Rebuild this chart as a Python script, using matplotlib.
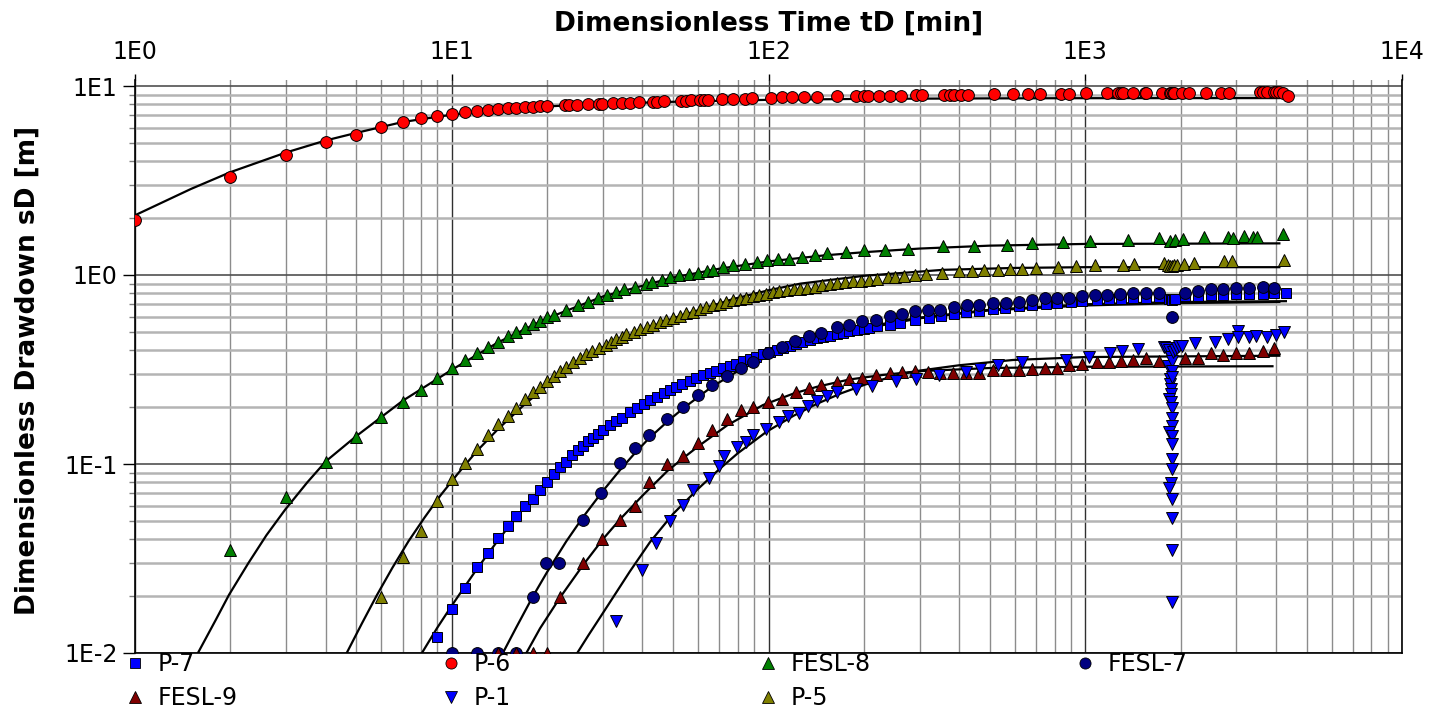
import math
import matplotlib
matplotlib.use("Agg")
import matplotlib.pyplot as plt
from matplotlib.lines import Line2D
from matplotlib.ticker import LogLocator, FuncFormatter, NullFormatter

plt.rcParams['font.family'] = ['DejaVu Sans']

# ---------------- data (t [min], s [m]) ----------------
P7 = [(9,0.0122),(10,0.0171),(11,0.0222),(12,0.0284),(13,0.0338),(14,0.0406),(15,0.0468),(16,0.0533),
      (17,0.0598),(18,0.0649),(19,0.073),(20,0.08),(21,0.089),(22,0.096),(23,0.103),(24,0.111),(25,0.118),
      (26,0.125),(27,0.132),(28,0.138),(29,0.145),(30,0.151),(31.6,0.16),(33,0.168),(34.5,0.176),(36.5,0.188),
      (38.5,0.198),(40.5,0.207),(42.2,0.217),(44.5,0.227),(46.7,0.237),(48.8,0.247),(51,0.256),(53.5,0.265),
      (56.4,0.275),(59.2,0.285),(62,0.294),(65.2,0.303),(68.5,0.312),(71.8,0.321),(75.4,0.331),(79,0.34),
      (83,0.35),(87.2,0.36),(91.5,0.37),(96,0.38),(100.8,0.39),(106,0.4),(111,0.41),(116.6,0.423),(122,0.432),
      (128,0.442),(134.8,0.455),(142,0.462),(149,0.47),(156,0.478),(164,0.486),(172,0.495),(180,0.504),
      (190,0.512),(200,0.52),(208,0.525),(220,0.535),(241,0.547),(260,0.56),(290,0.575),(320,0.59),(350,0.605),
      (385,0.62),(420,0.635),(463,0.645),(510,0.66),(560,0.67),(620,0.685),(680,0.695),(750,0.705),(815,0.715),
      (900,0.72),(980,0.73),(1090,0.735),(1190,0.745),(1300,0.75),(1420,0.755),(1560,0.76),(1710,0.765),
      (1840,0.75),(1860,0.745),(1880,0.74),(1900,0.745),(1920,0.75),(2060,0.77),(2270,0.775),(2490,0.78),
      (2730,0.785),(2990,0.79),(3300,0.79),(3630,0.795),(3950,0.8),(4300,0.805)]

P6 = [(1,1.95),(2,3.31),(3,4.32),(4,5.08),(5,5.51),(6,6.06),(7,6.44),(8,6.76),(9,6.9),(10,7.1),(11,7.28),
      (12,7.39),(13,7.47),(14,7.55),(15,7.62),(16,7.68),(17,7.72),(18,7.76),(19,7.8),(20,7.83),(22.7,7.9),
      (23.5,7.92),(24.9,7.95),(26.9,8.0),(29.1,8.05),(29.8,8.05),(32.2,8.1),(34.4,8.15),(36.6,8.15),(38.9,8.2),
      (43.1,8.25),(44.4,8.25),(46.8,8.3),(52.8,8.35),(54.7,8.35),(56.9,8.4),(60.9,8.4),(62.5,8.4),(64.6,8.45),
      (71.3,8.5),(77,8.5),(84.3,8.55),(88.8,8.6),(102,8.65),(110,8.7),(119,8.7),(129,8.75),(142,8.75),(164,8.8),
      (189,8.85),(200,8.85),(206,8.85),(224,8.9),(242,8.9),(262,8.9),(293,8.95),(305,8.95),(357,8.95),(373,8.95),
      (385,9.0),(405,9.0),(425,9.0),(516,9.05),(591,9.1),(661,9.1),(720,9.1),(838,9.1),(888,9.12),(1005,9.15),
      (1169,9.15),(1270,9.15),(1295,9.15),(1320,9.18),(1420,9.18),(1540,9.18),(1555,9.18),(1747,9.18),
      (1850,9.2),(1870,9.2),(1890,9.2),(1910,9.2),(2015,9.2),(2130,9.2),(2410,9.22),(2680,9.22),(2840,9.22),
      (3550,9.25),(3650,9.25),(3750,9.25),(3950,9.25),(4000,9.25),(4100,9.25),(4200,9.22),(4370,8.88)]

FESL8 = [(2,0.0349),(3,0.0667),(4,0.102),(5,0.1396),(6,0.178),(7,0.212),(8,0.247),(9,0.284),(10,0.321),
         (11,0.354),(12,0.387),(13,0.415),(14,0.444),(15,0.478),(16,0.501),(17,0.523),(18,0.549),(19,0.572),
         (20,0.598),(21,0.615),(23,0.654),(25,0.69),(27,0.719),(29,0.757),(31,0.783),(33,0.809),(35,0.839),
         (38,0.864),(41,0.892),(43,0.918),(46,0.944),(49,0.976),(52,1.0),(56,1.012),(60,1.03),(64,1.045),
         (67,1.063),(72,1.10),(77,1.125),(84,1.138),(92,1.172),(99,1.195),(107,1.22),(116,1.22),(128,1.247),
         (140,1.27),(153,1.30),(176,1.32),(200,1.35),(233,1.36),(275,1.38),(356,1.42),(447,1.42),(565,1.45),
         (680,1.48),(850,1.50),(1035,1.52),(1361,1.53),(1706,1.56),(1847,1.52),(1920,1.53),(2030,1.55),
         (2373,1.58),(2830,1.59),(2925,1.56),(3180,1.61),(3390,1.58),(3480,1.58),(4200,1.64)]

FESL7 = [(10,0.01),(12,0.01),(14,0.01),(16,0.01),(18,0.0199),(19.9,0.0301),(21.8,0.0301),(25.9,0.0504),
         (29.7,0.0704),(34,0.1007),(37.9,0.121),(41.8,0.142),(47.9,0.173),(53.9,0.201),(59.8,0.231),(66.2,0.262),
         (74.1,0.293),(81.6,0.322),(89.3,0.345),(99.7,0.387),(110,0.415),(121,0.45),(134,0.474),(147,0.492),
         (164,0.533),(180,0.545),(198,0.57),(218,0.579),(241,0.606),(264,0.623),(290,0.646),(318,0.654),
         (349,0.656),(385,0.676),(422,0.69),(463,0.696),(510,0.71),(563,0.71),(617,0.724),(677,0.733),
         (747,0.755),(813,0.755),(890,0.757),(980,0.773),(1070,0.785),(1175,0.785),(1290,0.789),(1420,0.802),
         (1560,0.802),(1710,0.802),(1877,0.603),(2060,0.802),(2270,0.822),(2490,0.839),(2730,0.839),
         (2990,0.853),(3300,0.853),(3630,0.863),(3950,0.853)]

FESL9 = [(14,0.01),(16,0.01),(18,0.01),(20,0.01),(21.9,0.0199),(25.9,0.0299),(29.9,0.0401),(34,0.0504),
         (37.9,0.0603),(41.8,0.0801),(47.9,0.1004),(53.9,0.110),(59.8,0.1298),(66.2,0.151),(74.1,0.1726),
         (81.6,0.193),(89.3,0.2),(99.7,0.213),(110,0.222),(122,0.241),(134,0.251),(147,0.262),(164,0.273),
         (179,0.283),(198,0.284),(218,0.295),(241,0.304),(264,0.305),(290,0.309),(318,0.305),(349,0.302),
         (383,0.303),(420,0.303),(463,0.303),(510,0.313),(563,0.313),(617,0.315),(677,0.318),(747,0.322),
         (813,0.323),(890,0.336),(980,0.337),(1086,0.345),(1190,0.345),(1300,0.349),(1420,0.355),(1560,0.364),
         (1710,0.352),(2060,0.362),(2270,0.362),(2490,0.387),(2730,0.377),(2990,0.387),(3300,0.387),
         (3630,0.398),(3950,0.41)]

P1 = [(33,0.0147),(39.8,0.0275),(44,0.0383),(48.8,0.0502),(53.9,0.061),(57.6,0.0727),(65,0.0846),(70,0.0975),
      (72.5,0.110),(79.5,0.1236),(85,0.1306),(89.3,0.142),(98.5,0.154),(108,0.167),(115,0.18),(125,0.187),
      (133,0.203),(142,0.216),(153,0.229),(164,0.239),(189,0.249),(212,0.259),(253,0.275),(293,0.281),
      (346,0.294),(420,0.308),(464,0.318),(530,0.335),(630,0.345),(870,0.356),(1030,0.37),(1200,0.385),
      (1310,0.395),(1470,0.406),(1770,0.415),(1800,0.41),(1830,0.33),(1840,0.40),(1850,0.28),(1855,0.265),
      (1860,0.249),(1865,0.234),(1840,0.22),(1870,0.212),(1880,0.199),(1880,0.176),(1885,0.159),(1840,0.147),
      (1880,0.141),(1885,0.127),(1880,0.106),(1885,0.0936),(1870,0.0796),(1840,0.0748),(1880,0.0649),
      (1880,0.0519),(1880,0.0352),(1880,0.0187),(1870,0.37),(1875,0.35),(1880,0.31),(1885,0.29),(1890,0.39),
      (1920,0.40),(1950,0.41),(1980,0.42),(2015,0.423),(2220,0.437),(2560,0.444),(2820,0.459),(3030,0.508),
      (3040,0.47),(3300,0.469),(3450,0.475),(3750,0.469),(4000,0.482),(4250,0.502)]

P5 = [(6,0.0199),(7,0.0322),(8,0.0444),(9,0.0635),(10,0.0828),(11,0.1016),(12,0.1206),(13,0.142),(14,0.163),
      (15,0.18),(16,0.199),(17,0.22),(18,0.239),(19,0.256),(20,0.275),(21,0.293),(22,0.311),(23,0.325),
      (24.2,0.345),(25.4,0.362),(26.6,0.382),(27.8,0.396),(29.2,0.409),(30.6,0.428),(31.9,0.444),(33.1,0.459),
      (34.4,0.472),(35.6,0.488),(37.5,0.501),(39.3,0.519),(41.2,0.533),(43.3,0.547),(45.4,0.563),(47.6,0.579),
      (50,0.593),(52.5,0.61),(55,0.629),(57.8,0.641),(60.6,0.662),(63.6,0.676),(66.8,0.69),(70.1,0.701),
      (73.5,0.719),(77.2,0.733),(81,0.748),(85,0.76),(89.2,0.773),(93.6,0.785),(98.3,0.798),(103,0.812),
      (108,0.822),(114,0.828),(120,0.839),(126,0.845),(132,0.855),(140,0.865),(148,0.88),(156,0.9),(165,0.905),
      (175,0.915),(185,0.925),(196,0.935),(207,0.945),(220,0.955),(239,0.976),(250,0.975),(268,0.985),
      (290,1.0),(315,1.01),(352,1.03),(400,1.045),(440,1.05),(480,1.06),(530,1.067),(580,1.07),(630,1.08),
      (700,1.09),(820,1.10),(935,1.12),(1075,1.125),(1320,1.135),(1425,1.148),(1770,1.16),(1820,1.125),
      (1850,1.12),(1880,1.12),(1910,1.125),(1950,1.13),(2050,1.148),(2200,1.16),(2750,1.18),(2900,1.18),
      (4250,1.195)]

# fitted type curves
P6_fit = [(1,2.07),(1.5,2.85),(2,3.5),(3,4.45),(4,5.15),(5,5.65),(7,6.45),(10,7.05),(15,7.55),(20,7.8),
          (30,8.05),(50,8.25),(100,8.45),(200,8.55),(500,8.6),(1000,8.62),(4100,8.63)]
FESL8_fit = [(1.58,0.01),(1.8,0.015),(1.98,0.0203),(2.28,0.0299),(2.6,0.042),(2.98,0.0574),(3.5,0.08),
             (4,0.1032),(5,0.1406),(7,0.216),(10,0.315),(14,0.44),(20,0.59),(30,0.77),(50,0.97),(70,1.08),
             (100,1.18),(150,1.27),(200,1.32),(300,1.38),(500,1.43),(1000,1.46),(4100,1.47)]
P5_fit = [(4.66,0.01),(5.2,0.0143),(5.8,0.0202),(6.5,0.0283),(7.3,0.039),(8.2,0.052),(9.2,0.068),
          (10.4,0.088),(12,0.117),(14,0.153),(17,0.207),(20,0.26),(25,0.34),(30,0.415),(40,0.51),(50,0.59),
          (77,0.745),(100,0.83),(126,0.9),(200,0.99),(356,1.065),(600,1.09),(1000,1.10),(4100,1.10)]
P7_fit = [(8.05,0.01),(9,0.0136),(10,0.0178),(11,0.0225),(12,0.0278),(14,0.0395),(16,0.0525),(18,0.066),
          (20,0.08),(24,0.109),(30,0.151),(40,0.212),(50,0.258),(65,0.31),(75,0.338),(100,0.395),(150,0.475),
          (200,0.53),(300,0.595),(500,0.655),(1000,0.70),(2000,0.72),(4300,0.727)]
FESL7_fit = [(14.5,0.01),(16,0.0137),(18,0.0198),(20,0.0268),(23,0.039),(26,0.0525),(30,0.072),(34,0.093),
             (38,0.115),(42,0.137),(48,0.168),(54,0.198),(66,0.255),(82,0.318),(100,0.372),(150,0.46),
             (200,0.52),(300,0.59),(500,0.65),(1000,0.69),(2000,0.71),(4100,0.72)]
FESL9_fit = [(17.2,0.01),(19,0.0135),(21.9,0.0195),(25.9,0.029),(30,0.04),(34,0.051),(40,0.068),(48,0.092),
             (54,0.108),(60,0.124),(74,0.16),(96,0.205),(120,0.236),(142,0.256),(180,0.28),(230,0.296),
             (300,0.31),(500,0.322),(1000,0.327),(3900,0.329)]
P1_fit = [(24.9,0.01),(27,0.0124),(29.3,0.0153),(33,0.0208),(36.5,0.027),(42.2,0.0385),(50,0.0545),
          (60,0.074),(70,0.094),(80,0.114),(98.5,0.148),(120,0.18),(142,0.208),(170,0.237),(203,0.264),
          (260,0.298),(300,0.312),(400,0.333),(590,0.355),(1000,0.368),(4100,0.374)]

series_names = ["P-7", "P-6", "FESL-8", "FESL-7", "FESL-9", "P-1", "P-5"]
series_data = [P7, P6, FESL8, FESL7, FESL9, P1, P5]
series_colors = ["#0000FF", "#FF0000", "#008000", "#000080", "#800000", "#0000FF", "#808000"]
series_markers = ["s", "o", "^", "o", "^", "v", "^"]
fits = [P7_fit, P6_fit, FESL8_fit, FESL7_fit, FESL9_fit, P1_fit, P5_fit]

x_ticks = [1, 10, 100, 1000, 10000]
y_ticks = [0.01, 0.1, 1, 10]

# ---------------- figure ----------------
W, H = 1446, 713
fig = plt.figure(figsize=(W / 100, H / 100), dpi=100)
ax = fig.add_axes([135 / W, 1 - 653 / H, (1402 - 135) / W, (653 - 80) / H])
ax.set_xscale("log")
ax.set_yscale("log")
ax.set_xlim(1, 1e4)
ax.set_ylim(0.01, 10 ** (1 + 6 / 189))

# grid
ax.xaxis.set_minor_locator(LogLocator(base=10, subs=range(2, 10)))
ax.yaxis.set_minor_locator(LogLocator(base=10, subs=range(2, 10)))
ax.grid(True, axis="x", which="major", color="#303030", lw=1.0)
ax.grid(True, axis="x", which="minor", color="#8c8c8c", lw=1.0)
ax.grid(True, axis="y", which="major", color="#505050", lw=1.2)
ax.grid(True, axis="y", which="minor", color="#b4b4b4", lw=1.8)
ax.set_axisbelow(True)

for fit in fits:
    ft, fs = zip(*fit)
    ax.plot(ft, fs, color="black", lw=1.6, zorder=2)

msize = {"s": 7.8, "o": 8.5, "^": 9.0, "v": 9.0}
for name, data, c, m in zip(series_names, series_data, series_colors, series_markers):
    t, s = zip(*data)
    ax.plot(t, s, linestyle="none", marker=m, ms=msize[m], mfc=c, mec="black", mew=0.7,
            label=name, zorder=3)

# ticks
ax.set_xticks(x_ticks)
ax.set_yticks(y_ticks)
fmt = FuncFormatter(lambda v, p: "1E%d" % round(math.log10(v)))
ax.xaxis.set_major_formatter(fmt)
ax.yaxis.set_major_formatter(fmt)
ax.xaxis.set_minor_formatter(NullFormatter())
ax.yaxis.set_minor_formatter(NullFormatter())
ax.xaxis.tick_top()
ax.tick_params(axis="x", which="major", direction="out", length=4.5, width=1, labelsize=17, pad=7,
               top=True, bottom=False)
ax.tick_params(axis="x", which="minor", length=0, top=False, bottom=False)
ax.tick_params(axis="y", which="major", direction="out", length=8.6, width=1, labelsize=17, pad=4,
               left=True, right=False)
ax.tick_params(axis="y", which="minor", direction="out", length=4.3, width=1, left=True, right=False,
               color="#808080")
ax.spines["top"].set_visible(False)
for sp in ("left", "bottom", "right"):
    ax.spines[sp].set_color("black")
    ax.spines[sp].set_linewidth(1.2)

fig.text((135 + 1402) / 2 / W, 1 - 24 / H, "Dimensionless Time tD [min]", ha="center", va="center",
         fontsize=19, fontweight="bold")
fig.text(28 / W, 1 - 370 / H, "Dimensionless Drawdown sD [m]", ha="center", va="center",
         rotation=90, fontsize=19, fontweight="bold")

# legend: 4 columns aligned with the decades
cols = [[0, 4], [1, 5], [2, 6], [3]]
col_x = [135, 451, 768, 1085]
fs_leg = 17
for idxs, xp in zip(cols, col_x):
    hs = [Line2D([], [], ls="none", marker=series_markers[i], ms=msize[series_markers[i]] - 0.5,
                 mfc=series_colors[i], mec="black", mew=0.6) for i in idxs]
    fig.legend(hs, [series_names[i] for i in idxs], loc="upper left",
               bbox_to_anchor=((xp - 11.8) / W, 1 - 652 / H), frameon=False, fontsize=fs_leg,
               handlelength=1.0, handletextpad=0.45, labelspacing=0.43, borderpad=0,
               borderaxespad=0)

fig.savefig("out.png", dpi=100)
